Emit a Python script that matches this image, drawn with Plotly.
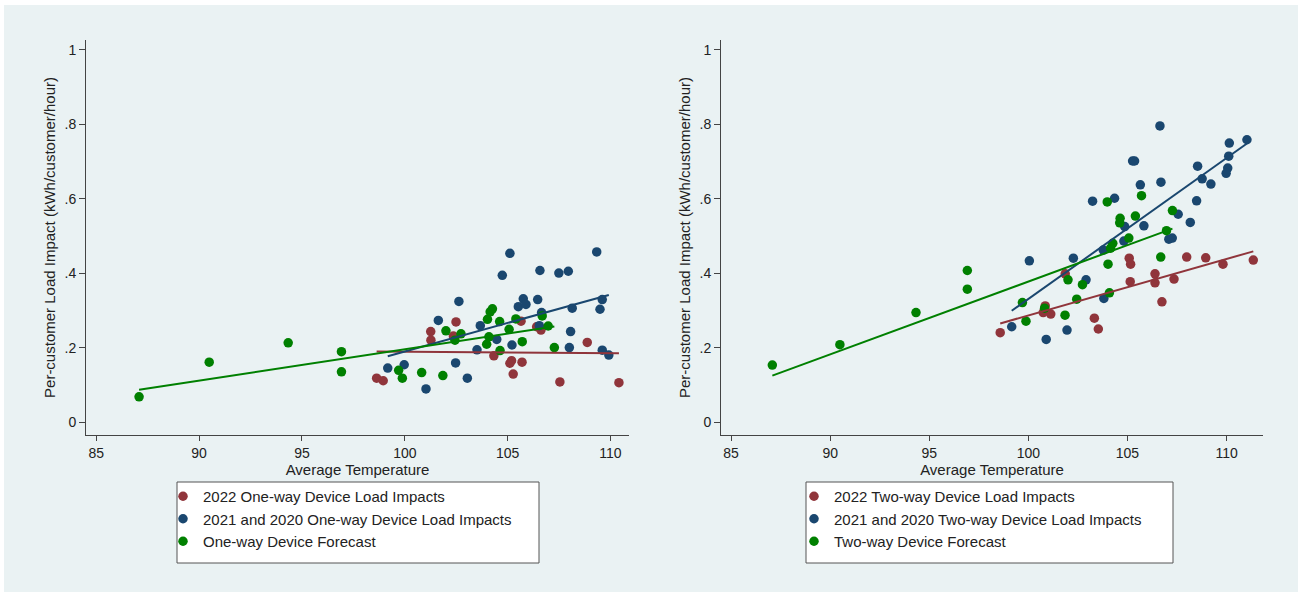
import numpy as np
import plotly.graph_objects as go

# ---------------- data ----------------
# Forecast temperatures are shared by both device types
forecast_temp = [87.08, 90.49, 94.33, 96.92, 96.92, 99.70, 99.88, 100.82, 101.85,
                 102.00, 102.44, 102.73, 103.98, 104.02, 104.09, 104.15, 104.26,
                 104.61, 104.63, 105.07, 105.40, 105.71, 106.68, 106.97, 107.27]
oneway_forecast = [0.069, 0.162, 0.214, 0.190, 0.136, 0.140, 0.119, 0.134, 0.126,
                   0.246, 0.221, 0.238, 0.210, 0.277, 0.230, 0.297, 0.305,
                   0.271, 0.193, 0.250, 0.278, 0.217, 0.286, 0.259, 0.201]
twoway_forecast = [0.154, 0.209, 0.295, 0.408, 0.358, 0.322, 0.272, 0.307, 0.288,
                   0.383, 0.331, 0.370, 0.592, 0.425, 0.348, 0.468, 0.481,
                   0.536, 0.548, 0.495, 0.554, 0.609, 0.444, 0.515, 0.569]

# One-way devices, 2022 events
oneway_2022_temp = [102.49, 101.26, 101.27, 102.36, 105.65, 106.62, 106.41, 108.87, 104.33,
                    105.11, 105.19, 105.70, 105.27, 107.54, 110.41, 98.63, 98.95]
oneway_2022_load = [0.270, 0.244, 0.221, 0.232, 0.272, 0.248, 0.257, 0.215, 0.179,
                    0.159, 0.166, 0.162, 0.130, 0.109, 0.107, 0.119, 0.112]

# One-way devices, 2021 and 2020 events
oneway_prior_temp = [105.11, 109.33, 104.74, 106.57, 107.49, 107.95, 102.63, 105.76, 105.52, 105.89,
                     106.46, 109.60, 109.49, 108.14, 106.65, 101.63, 103.67, 106.54, 104.47, 105.21,
                     103.51, 108.06, 108.00, 109.60, 109.92, 99.17, 99.97, 102.47, 103.04, 101.03]
oneway_prior_load = [0.454, 0.458, 0.395, 0.408, 0.401, 0.406, 0.325, 0.332, 0.311, 0.317,
                     0.330, 0.330, 0.304, 0.307, 0.295, 0.274, 0.260, 0.260, 0.223, 0.208,
                     0.195, 0.244, 0.201, 0.194, 0.181, 0.146, 0.155, 0.160, 0.119, 0.090]

# Two-way devices, 2022 events
twoway_2022_temp = [105.09, 105.16, 107.99, 108.95, 109.82, 111.35, 106.39, 106.39, 105.14,
                    107.35, 101.86, 106.74, 103.33, 103.53, 100.75, 101.13, 100.85, 98.58]
twoway_2022_load = [0.441, 0.425, 0.444, 0.442, 0.425, 0.436, 0.399, 0.375, 0.378,
                    0.385, 0.399, 0.324, 0.280, 0.251, 0.295, 0.291, 0.313, 0.241]

# Two-way devices, 2021 and 2020 events
twoway_prior_temp = [106.64, 111.03, 110.14, 110.11, 105.26, 105.36, 108.54, 110.06, 109.98, 108.77,
                     109.21, 105.65, 106.69, 103.24, 104.35, 108.49, 107.56, 108.17, 104.86, 105.83,
                     104.82, 107.09, 107.26, 103.78, 100.05, 102.27, 102.91, 103.81, 99.16, 100.90,
                     101.95]
twoway_prior_load = [0.796, 0.759, 0.750, 0.715, 0.702, 0.702, 0.688, 0.683, 0.669, 0.654,
                     0.640, 0.638, 0.645, 0.594, 0.602, 0.595, 0.559, 0.537, 0.526, 0.528,
                     0.487, 0.492, 0.495, 0.463, 0.434, 0.441, 0.383, 0.333, 0.257, 0.223,
                     0.248]

y_ticks = [0, 0.2, 0.4, 0.6, 0.8, 1]
y_tick_text = ["0", ".2", ".4", ".6", ".8", "1"]
x_ticks = [85, 90, 95, 100, 105, 110]

# ---------------- styling ----------------
RED = "#90353B"
NAVY = "#1A476F"
GREEN = "#008000"
BG = "#EAF2F3"
GRID = "#EAF2F3"
FONT = "Liberation Sans, Arial, sans-serif"
W, H = 1303, 594

fig = go.Figure()


def add_panel(xa, ya, legend, series):
    for name, temp, load, color in series:
        fig.add_trace(go.Scatter(
            x=temp, y=load, mode="markers", name=name,
            marker=dict(color=color, size=9.5, line=dict(width=0)),
            xaxis=xa, yaxis=ya, legend=legend, showlegend=True,
        ))
    # linear fits drawn over each series' temperature span
    for name, temp, load, color in series:
        t = np.asarray(temp)
        slope, icpt = np.polyfit(t, np.asarray(load), 1)
        xs = np.array([t.min(), t.max()])
        fig.add_trace(go.Scatter(
            x=xs, y=icpt + slope * xs, mode="lines",
            line=dict(color=color, width=2), hoverinfo="skip",
            xaxis=xa, yaxis=ya, showlegend=False,
        ))


add_panel("x", "y", "legend", [
    ("2022 One-way Device Load Impacts", oneway_2022_temp, oneway_2022_load, RED),
    ("2021 and 2020 One-way Device Load Impacts", oneway_prior_temp, oneway_prior_load, NAVY),
    ("One-way Device Forecast", forecast_temp, oneway_forecast, GREEN),
])
add_panel("x2", "y2", "legend2", [
    ("2022 Two-way Device Load Impacts", twoway_2022_temp, twoway_2022_load, RED),
    ("2021 and 2020 Two-way Device Load Impacts", twoway_prior_temp, twoway_prior_load, NAVY),
    ("Two-way Device Forecast", forecast_temp, twoway_forecast, GREEN),
])

y_dom = [1 - 435 / H, 1 - 40 / H]
x_common = dict(
    tickvals=x_ticks, ticks="outside", ticklen=5, tickcolor="#444", tickwidth=1,
    showline=True, linecolor="#444", linewidth=1, showgrid=False, zeroline=False,
    tickfont=dict(family=FONT, size=14, color="#222"),
    title=dict(text="Average Temperature", font=dict(family=FONT, size=15, color="#222"), standoff=0),
)
y_common = dict(
    range=[-0.0336, 1.0268], domain=y_dom,
    tickvals=y_ticks, ticktext=y_tick_text, ticks="outside", ticklen=6, tickcolor="#444", tickwidth=1,
    showline=True, linecolor="#444", linewidth=1, showgrid=True, gridcolor=GRID, gridwidth=1.5,
    zeroline=False,
    tickfont=dict(family=FONT, size=14, color="#222"),
    title=dict(text="Per-customer Load Impact (kWh/customer/hour)",
               font=dict(family=FONT, size=15, color="#222"), standoff=5),
)

legend_common = dict(
    orientation="v", xanchor="left", yanchor="top",
    bgcolor="rgba(0,0,0,0)", borderwidth=0,
    font=dict(family=FONT, size=15, color="#222"),
    itemwidth=30, tracegroupgap=0,
)

fig.update_layout(
    width=W, height=H,
    margin=dict(l=0, r=0, t=0, b=0),
    paper_bgcolor="white", plot_bgcolor="white",
    xaxis=dict(domain=[86 / W, 629 / W], range=[84.5, 110.9], anchor="y", **x_common),
    yaxis=dict(anchor="x", **y_common),
    xaxis2=dict(domain=[721 / W, 1263 / W], range=[84.49, 111.84], anchor="y2", **x_common),
    yaxis2=dict(anchor="x2", **y_common),
    legend=dict(x=163 / W, y=1 - 480 / H, **legend_common),
    legend2=dict(x=794 / W, y=1 - 480 / H, **legend_common),
    shapes=[
        dict(type="rect", xref="paper", yref="paper", layer="below",
             x0=4 / W, x1=1298 / W, y0=1 - 592 / H, y1=1 - 5 / H,
             fillcolor=BG, line=dict(width=0)),
        dict(type="rect", xref="paper", yref="paper", layer="below",
             x0=177 / W, x1=539 / W, y0=1 - 563 / H, y1=1 - 482 / H,
             fillcolor="white", line=dict(color="#555", width=1)),
        dict(type="rect", xref="paper", yref="paper", layer="below",
             x0=806 / W, x1=1173 / W, y0=1 - 563 / H, y1=1 - 482 / H,
             fillcolor="white", line=dict(color="#555", width=1)),
    ],
    hovermode="closest",
)

fig.write_html("out.html")
